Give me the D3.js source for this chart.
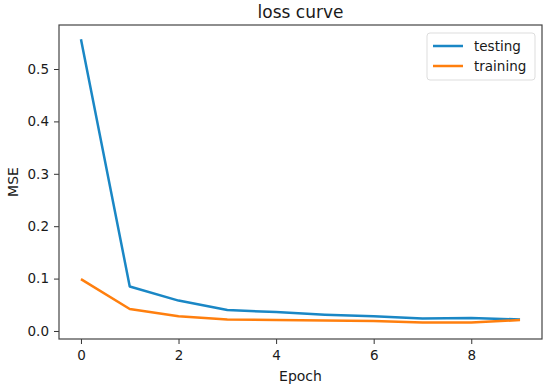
<!DOCTYPE html>
<html>
<head>
<meta charset="utf-8">
<script src="https://cdn.jsdelivr.net/npm/d3@7"></script>
<style>
	body { margin: 0; background: #fff; }
	svg text { font-family: "DejaVu Sans", sans-serif; fill: #1a1a1a; }
</style>
</head>
<body>
<svg id="loss-chart" width="550" height="390"></svg>
<script>
'use strict';

// data
var epochs = [0, 1, 2, 3, 4, 5, 6, 7, 8, 9];
var testing = [0.557, 0.085, 0.058, 0.040, 0.036, 0.031, 0.028, 0.024, 0.025, 0.022];
var training = [0.099, 0.042, 0.028, 0.022, 0.021, 0.020, 0.019, 0.016, 0.016, 0.021];
var xTicks = [0, 2, 4, 6, 8];
var yTicks = [0.0, 0.1, 0.2, 0.3, 0.4, 0.5];
var seriesNames = ['testing', 'training'];

var colors = { testing: '#1a87c5', training: '#ff7f0e' };

var chart = d3.select('#loss-chart'),
	margin = { top: 25, right: 8, bottom: 51, left: 59 },
	width = 550 - margin.left - margin.right,
	height = 390 - margin.top - margin.bottom;

var g = chart.append('g')
	.attr('transform', 'translate(' + margin.left + ',' + margin.top + ')');

var xScale = d3.scaleLinear()
	.domain([-0.45, 9.45])
	.range([0, width]);

var yScale = d3.scaleLinear()
	.domain([-0.0153, 0.584])
	.range([height, 0]);

var line = d3.line()
	.x(function(d, i) { return xScale(epochs[i]); })
	.y(function(d) { return yScale(d); });

// lines
[testing, training].forEach(function(values, k) {
	g.append('path')
		.datum(values)
		.attr('fill', 'none')
		.attr('stroke', colors[seriesNames[k]])
		.attr('stroke-width', 2.5)
		.attr('stroke-linejoin', 'round')
		.attr('d', line);
});

// axes
var xAxis = d3.axisBottom(xScale)
		.tickValues(xTicks)
		.tickSize(5)
		.tickPadding(6)
		.tickFormat(d3.format('d')),
	yAxis = d3.axisLeft(yScale)
		.tickValues(yTicks)
		.tickSize(5)
		.tickPadding(5)
		.tickFormat(d3.format('.1f'));

g.append('g')
	.attr('transform', 'translate(0,' + height + ')')
	.call(xAxis)
	.call(function(s) { s.select('.domain').remove(); });

g.append('g')
	.call(yAxis)
	.call(function(s) { s.select('.domain').remove(); });

g.selectAll('.tick line').attr('stroke', '#333');
g.selectAll('.tick text')
	.attr('font-size', 13.5)
	.style('font-family', '"DejaVu Sans", sans-serif')
	.attr('fill', '#1a1a1a');

// frame
g.append('rect')
	.attr('width', width)
	.attr('height', height)
	.attr('fill', 'none')
	.attr('stroke', '#444')
	.attr('stroke-width', 1.2);

// title and labels
chart.append('text')
	.attr('x', margin.left + width / 2)
	.attr('y', 18)
	.attr('text-anchor', 'middle')
	.attr('font-size', 17)
	.text('loss curve');

chart.append('text')
	.attr('x', margin.left + width / 2)
	.attr('y', 381)
	.attr('text-anchor', 'middle')
	.attr('font-size', 14)
	.text('Epoch');

chart.append('text')
	.attr('transform', 'translate(18,' + (margin.top + height / 2) + ') rotate(-90)')
	.attr('text-anchor', 'middle')
	.attr('font-size', 14)
	.text('MSE');

// legend
var legend = chart.append('g')
	.attr('transform', 'translate(427,33)');

legend.append('rect')
	.attr('width', 108)
	.attr('height', 47)
	.attr('rx', 3)
	.attr('fill', '#fff')
	.attr('stroke', '#ddd');

seriesNames.forEach(function(name, i) {
	var y = 13 + i * 20;
	legend.append('line')
		.attr('x1', 6).attr('x2', 36)
		.attr('y1', y).attr('y2', y)
		.attr('stroke', colors[name])
		.attr('stroke-width', 2.5);
	legend.append('text')
		.attr('x', 47)
		.attr('y', y + 5)
		.attr('font-size', 13.5)
		.text(name);
});
</script>
</body>
</html>
